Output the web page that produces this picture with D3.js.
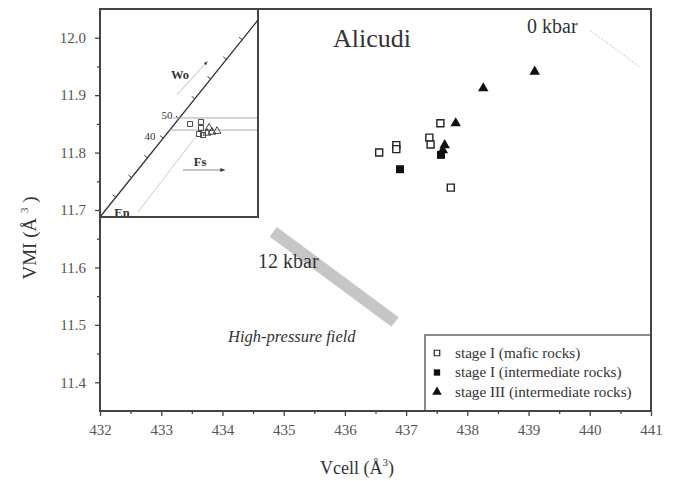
<!DOCTYPE html>
<html>
<head>
<meta charset="utf-8">
<title>Alicudi VMI vs Vcell</title>
<style>
  body { margin: 0; background: #fff; }
  svg { display: block; }
  .tick line { stroke: #444; stroke-width: 1.3px; }
  .frame { fill: none; stroke: #444; stroke-width: 2px; }
</style>
</head>
<body>
<svg id="chart" width="673" height="481"></svg>
<script src="https://d3js.org/d3.v7.min.js"></script>
<script>
// axis ticks
const xTicks = [432, 433, 434, 435, 436, 437, 438, 439, 440, 441];
const yTicks = [11.4, 11.5, 11.6, 11.7, 11.8, 11.9, 12.0];
const xMinor = [432.5, 433.5, 434.5, 435.5, 436.5, 437.5, 438.5, 439.5, 440.5];
const yMinor = [11.45, 11.55, 11.65, 11.75, 11.85, 11.95];

// [Vcell, VMI]
const maficI = [[436.56, 11.800], [436.84, 11.813], [436.84, 11.806], [437.38, 11.826],
                [437.40, 11.814], [437.56, 11.851], [437.73, 11.739]];
const intermI = [[436.90, 11.771], [437.57, 11.796]];
const intermIII = [[437.60, 11.804], [437.63, 11.813], [437.81, 11.851], [438.26, 11.912], [439.10, 11.941]];

// pressure lines
const bar12 = [[434.83, 11.662], [436.82, 11.505]];
const bar0 = [[440.0, 12.013], [440.82, 11.949]];

const legendItems = ["stage I (mafic rocks)", "stage I (intermediate rocks)", "stage III (intermediate rocks)"];

// inset (quadrilateral sketch), coordinates 0..100
const insetSquares = [[57.0, 44.7], [63.9, 45.7], [63.9, 42.8], [62.7, 39.9], [65.2, 39.4]];
const insetTriangles = [[69.0, 42.8], [74.1, 41.3], [67.7, 40.4], [70.9, 40.9]];
const insetDiag = [[0, 0], [100, 94.7]];
const insetDiagTicks = [0.1, 0.2, 0.3, 0.4, 0.5, 0.6, 0.7, 0.8, 0.9];
const insetHLines = [[46, 47.6], [44, 41.8]];
const insetWo = [[48.7, 58.7], [68, 74.8]];
const insetLow = [[24.1, 2.4], [61.4, 39.4]];
const insetFs = [[52.5, 22.6], [79.1, 22.6]];

const FONT = "'Liberation Serif', 'Times New Roman', Times, 'DejaVu Serif', serif";

const svg = d3.select("#chart");
const L = 100, R = 651, T = 9, B = 411;

const x = d3.scaleLinear().domain([432, 441]).range([L, R]);
const y = d3.scaleLinear().domain([11.35, 12.05]).range([B, T]);

// axes
const gx = svg.append("g").attr("transform", `translate(0,${B})`)
  .call(d3.axisBottom(x).tickValues(xTicks).tickSize(5).tickPadding(8).tickFormat(d3.format("d")));
gx.select(".domain").remove();
const gxm = svg.append("g").attr("transform", `translate(0,${B})`)
  .call(d3.axisBottom(x).tickValues(xMinor).tickSize(3).tickFormat(""));
gxm.select(".domain").remove();

const gy = svg.append("g").attr("transform", `translate(${L},0)`)
  .call(d3.axisLeft(y).tickValues(yTicks).tickSize(5).tickPadding(9).tickFormat(d3.format(".1f")));
gy.select(".domain").remove();
const gym = svg.append("g").attr("transform", `translate(${L},0)`)
  .call(d3.axisLeft(y).tickValues(yMinor).tickSize(3).tickFormat(""));
gym.select(".domain").remove();
svg.selectAll(".tick text").attr("fill", "#555").attr("font-size", 15);

// pressure bands
const line = d3.line().x(d => x(d[0])).y(d => y(d[1]));
svg.append("path").attr("d", line(bar12))
  .attr("stroke", "#c6c6c6").attr("stroke-width", 12).attr("fill", "none");
svg.append("path").attr("d", line(bar0))
  .attr("stroke", "#c8c8c8").attr("stroke-width", 1).attr("stroke-dasharray", "2,1.5").attr("fill", "none");

// labels
svg.append("text").attr("x", 333).attr("y", 47).attr("font-size", 26).text("Alicudi");
svg.append("text").attr("x", 527).attr("y", 33).attr("font-size", 20).text("0 kbar");
svg.append("text").attr("x", 258).attr("y", 268).attr("font-size", 20).text("12 kbar");
svg.append("text").attr("x", 228).attr("y", 342).attr("font-size", 16.5)
  .attr("font-style", "italic").text("High-pressure field");

// points
const sq = d3.symbol().type(d3.symbolSquare);
const tri = d3.symbol().type(d3.symbolTriangle);
svg.append("g").selectAll("path").data(maficI).join("path")
  .attr("transform", d => `translate(${x(d[0])},${y(d[1])})`)
  .attr("d", sq.size(49)()).attr("fill", "#fff").attr("stroke", "#222").attr("stroke-width", 1.4);
svg.append("g").selectAll("path").data(intermI).join("path")
  .attr("transform", d => `translate(${x(d[0])},${y(d[1])})`)
  .attr("d", sq.size(64)()).attr("fill", "#111");
svg.append("g").selectAll("path").data(intermIII).join("path")
  .attr("transform", d => `translate(${x(d[0])},${y(d[1])})`)
  .attr("d", tri.size(48)()).attr("fill", "#111");

// legend
const lg = svg.append("g");
lg.append("rect").attr("x", 425).attr("y", 335).attr("width", R - 425).attr("height", B - 335)
  .attr("fill", "#fff").attr("stroke", "#666").attr("stroke-width", 1.5);
const ly = d3.scalePoint().domain(legendItems).range([353, 392]);
const lsym = [
  { d: sq.size(30)(), fill: "#fff", stroke: "#222" },
  { d: sq.size(40)(), fill: "#111", stroke: "none" },
  { d: tri.size(40)(), fill: "#111", stroke: "none" }
];
legendItems.forEach((t, i) => {
  lg.append("path").attr("transform", `translate(437,${ly(t)})`).attr("d", lsym[i].d)
    .attr("fill", lsym[i].fill).attr("stroke", lsym[i].stroke).attr("stroke-width", 1.2);
  lg.append("text").attr("x", 455).attr("y", ly(t) + 4.5).attr("font-size", 15.2).text(t);
});

// inset
const ix = d3.scaleLinear().domain([0, 100]).range([L, 258]);
const iy = d3.scaleLinear().domain([0, 100]).range([217, T]);
const ins = svg.append("g");
ins.append("rect").attr("x", L).attr("y", T).attr("width", 258 - L).attr("height", 217 - T)
  .attr("fill", "#fff");
const iline = d3.line().x(d => ix(d[0])).y(d => iy(d[1]));
ins.append("path").attr("d", iline(insetDiag)).attr("stroke", "#333").attr("stroke-width", 1.3).attr("fill", "none");
// ticks on diagonal
const dx = ix(insetDiag[1][0]) - ix(insetDiag[0][0]), dy = iy(insetDiag[1][1]) - iy(insetDiag[0][1]);
const len = Math.hypot(dx, dy), nx = dy / len, ny = -dx / len; // normal pointing up-left
insetDiagTicks.forEach(t => {
  const px = ix(insetDiag[0][0]) + dx * t, py = iy(insetDiag[0][1]) + dy * t;
  ins.append("line").attr("x1", px).attr("y1", py).attr("x2", px + nx * 4).attr("y2", py + ny * 4)
    .attr("stroke", "#333").attr("stroke-width", 1);
});
ins.append("text").attr("x", ix(42.4)).attr("y", iy(49) + 4).attr("font-size", 11)
  .attr("text-anchor", "middle").text("50");
ins.append("text").attr("x", ix(31.6)).attr("y", iy(38.9) + 4).attr("font-size", 11)
  .attr("text-anchor", "middle").text("40");
insetHLines.forEach(h => {
  ins.append("line").attr("x1", ix(h[0])).attr("x2", ix(100)).attr("y1", iy(h[1])).attr("y2", iy(h[1]))
    .attr("stroke", "#aaa").attr("stroke-width", 1);
});
ins.append("path").attr("d", iline(insetWo)).attr("stroke", "#bbb").attr("stroke-width", 1).attr("fill", "none");
ins.append("path").attr("d", iline(insetLow)).attr("stroke", "#ccc").attr("stroke-width", 1).attr("fill", "none");
ins.append("path").attr("d", iline(insetFs)).attr("stroke", "#888").attr("stroke-width", 1).attr("fill", "none");

// arrowheads
const head = (p0, p1, size) => {
  const x0 = ix(p0[0]), y0 = iy(p0[1]), x1 = ix(p1[0]), y1 = iy(p1[1]);
  const a = Math.atan2(y1 - y0, x1 - x0);
  const pts = [[x1, y1],
    [x1 - size * Math.cos(a - 0.4), y1 - size * Math.sin(a - 0.4)],
    [x1 - size * Math.cos(a + 0.4), y1 - size * Math.sin(a + 0.4)]];
  ins.append("path").attr("d", "M" + pts.join("L") + "Z").attr("fill", "#333");
};
head(insetWo[0], insetWo[1], 4);
head(insetFs[0], insetFs[1], 5);

ins.append("text").attr("x", ix(50.6)).attr("y", iy(68.3) + 4).attr("font-size", 12.5)
  .attr("font-weight", "bold").attr("text-anchor", "middle").text("Wo");
ins.append("text").attr("x", ix(63.3)).attr("y", iy(26.4) + 4).attr("font-size", 12.5)
  .attr("font-weight", "bold").attr("text-anchor", "middle").text("Fs");
ins.append("text").attr("x", ix(13.9)).attr("y", iy(1.9) + 4).attr("font-size", 12.5)
  .attr("font-weight", "bold").attr("text-anchor", "middle").text("En");

ins.selectAll(".isq").data(insetSquares).join("path").attr("class", "isq")
  .attr("transform", d => `translate(${ix(d[0])},${iy(d[1])})`)
  .attr("d", sq.size(25)()).attr("fill", "none").attr("stroke", "#333").attr("stroke-width", 0.9);
ins.selectAll(".itr").data(insetTriangles).join("path").attr("class", "itr")
  .attr("transform", d => `translate(${ix(d[0])},${iy(d[1])})`)
  .attr("d", tri.size(26)()).attr("fill", "none").attr("stroke", "#333").attr("stroke-width", 0.9);

ins.append("rect").attr("x", L).attr("y", T).attr("width", 258 - L).attr("height", 217 - T)
  .attr("class", "frame");

// frame
svg.append("rect").attr("x", L).attr("y", T).attr("width", R - L).attr("height", B - T).attr("class", "frame");

// axis titles
const xt = svg.append("text").attr("x", 357).attr("y", 474).attr("font-size", 18).attr("text-anchor", "middle");
xt.append("tspan").text("Vcell (Å");
xt.append("tspan").attr("font-size", 11).attr("dy", -8).text("3");
xt.append("tspan").attr("dy", 8).text(")");

const yt = svg.append("text").attr("transform", "translate(36,238) rotate(-90)")
  .attr("font-size", 19).attr("text-anchor", "middle");
yt.append("tspan").text("VMI (Å ");
yt.append("tspan").attr("font-size", 11).attr("dy", -8).text("3");
yt.append("tspan").attr("dy", 8).text(" )");

// serif everywhere
svg.selectAll("text").style("font-family", FONT);
svg.selectAll("text:not(.tick text)").attr("fill", "#333");
</script>
</body>
</html>
